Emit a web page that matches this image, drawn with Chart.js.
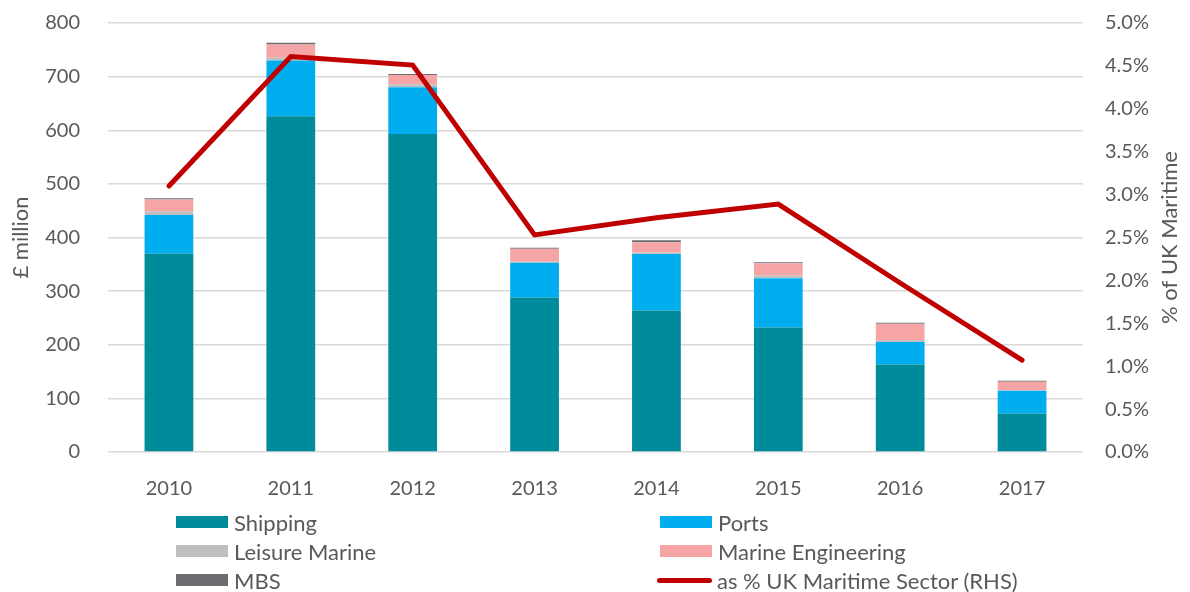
<!DOCTYPE html>
<html>
<head>
<meta charset="utf-8">
<script src="https://cdn.jsdelivr.net/npm/chart.js@4/dist/chart.umd.min.js"></script>
<style>
  body{margin:0;background:#fff;font-family:Lato,"Liberation Sans",sans-serif;}
  #wrap{position:relative;width:1190px;height:592px;}
  #legend{position:absolute;left:0;top:0;width:1190px;height:592px;pointer-events:none;}
  .item{position:absolute;display:flex;align-items:center;font-size:22px;color:#595959;}
  .box{width:52px;height:12px;margin-right:6px;}
  .ln{width:55px;height:5px;border-radius:3px;margin-right:5px;}
</style>
</head>
<body>
<div id="wrap">
  <canvas id="c" width="1190" height="592"></canvas>
  <div id="legend"></div>
</div>
<script>
// values (£ million, stacked)
const years = ['2010','2011','2012','2013','2014','2015','2016','2017'];
const shipping = [370, 626, 593, 288, 264, 232, 163, 72];
const ports = [72, 104, 87, 65, 105, 92, 42, 42];
const leisure = [7, 5, 6, 2, 3, 5, 4, 1];
const marineEng = [22, 25, 17, 24, 19, 23, 30, 16];
const mbs = [2, 3, 2, 2, 4, 2, 2, 2];
// share of UK maritime sector (right axis)
const share = [0.0310, 0.0461, 0.0451, 0.0253, 0.0273, 0.0289, 0.0197, 0.0107];

const txt = '#595959';
const font = 'Lato';

const bar = (label, data, color) => ({
  type:'bar', label, data, backgroundColor: color, yAxisID:'y', order:2,
  barPercentage:0.4, categoryPercentage:1, borderWidth:0
});

const datasets = [
  bar('Shipping', shipping, '#008B9B'),
  bar('Ports', ports, '#00AEEF'),
  bar('Leisure Marine', leisure, '#BFBFBF'),
  bar('Marine Engineering', marineEng, '#F6A5A7'),
  bar('MBS', mbs, '#6B6D70'),
  { type:'line', label:'as % UK Maritime Sector (RHS)', data: share, yAxisID:'y1', order:1,
    borderColor:'#C00000', borderWidth:5, pointRadius:0, tension:0, fill:false,
    borderCapStyle:'round', borderJoinStyle:'miter' }
];

// right axis title reads bottom-to-top in the original, so draw it by hand
const rightTitle = {
  id:'rightTitle',
  afterDraw(chart){
    const {ctx, chartArea} = chart;
    ctx.save();
    ctx.translate(1170, (chartArea.top + chartArea.bottom) / 2);
    ctx.rotate(-Math.PI / 2);
    ctx.fillStyle = txt;
    ctx.font = '22px ' + font;
    ctx.textAlign = 'center';
    ctx.textBaseline = 'middle';
    ctx.fillText('% of UK Maritime', 0, 0);
    ctx.restore();
  }
};

new Chart(document.getElementById('c'), {
  data: { labels: years, datasets },
  plugins: [rightTitle],
  options: {
    responsive:false, animation:false,
    layout:{ padding:{ top:23, left:0, right:0, bottom:0 } },
    plugins:{ legend:{display:false}, tooltip:{enabled:false} },
    scales:{
      x:{
        stacked:true,
        grid:{display:false}, border:{display:false},
        ticks:{ color:txt, font:{family:font, size:20}, padding:17 },
        afterFit: s => { s.height = 140; }
      },
      y:{
        stacked:true, position:'left', min:0, max:800,
        grid:{ color:'#D9D9D9', lineWidth:1.5, drawTicks:false },
        border:{display:false},
        ticks:{ stepSize:100, color:txt, font:{family:font, size:20}, padding:28 },
        title:{ display:true, text:'£ million', color:txt, font:{family:font, size:22}, padding:{top:8,bottom:0} },
        afterFit: s => { s.width = 108; s.paddingTop = 0; s.paddingBottom = 0; }
      },
      y1:{
        position:'right', min:0, max:0.05,
        grid:{ drawOnChartArea:false, drawTicks:false }, border:{display:false},
        ticks:{ stepSize:0.005, color:txt, font:{family:font, size:20}, padding:22,
          callback: v => (v*100).toFixed(1) + '%' },
        afterFit: s => { s.width = 107; s.paddingTop = 0; s.paddingBottom = 0; }
      }
    }
  }
});

// two-column legend like the original
const legendItems = [
  {label:'Shipping', color:'#008B9B', x:176, y:522},
  {label:'Ports', color:'#00AEEF', x:660, y:522},
  {label:'Leisure Marine', color:'#BFBFBF', x:176, y:551},
  {label:'Marine Engineering', color:'#F6A5A7', x:660, y:551},
  {label:'MBS', color:'#6B6D70', x:176, y:580},
  {label:'as % UK Maritime Sector (RHS)', color:'#C00000', x:657, y:580, line:true}
];
const lg = document.getElementById('legend');
legendItems.forEach(it => {
  const d = document.createElement('div');
  d.className = 'item';
  d.style.left = it.x + 'px';
  d.style.top = (it.y - 13) + 'px';
  d.style.height = '26px';
  const b = document.createElement('span');
  b.className = it.line ? 'ln' : 'box';
  b.style.background = it.color;
  const t = document.createElement('span');
  t.textContent = it.label;
  d.appendChild(b); d.appendChild(t);
  lg.appendChild(d);
});
</script>
</body>
</html>
